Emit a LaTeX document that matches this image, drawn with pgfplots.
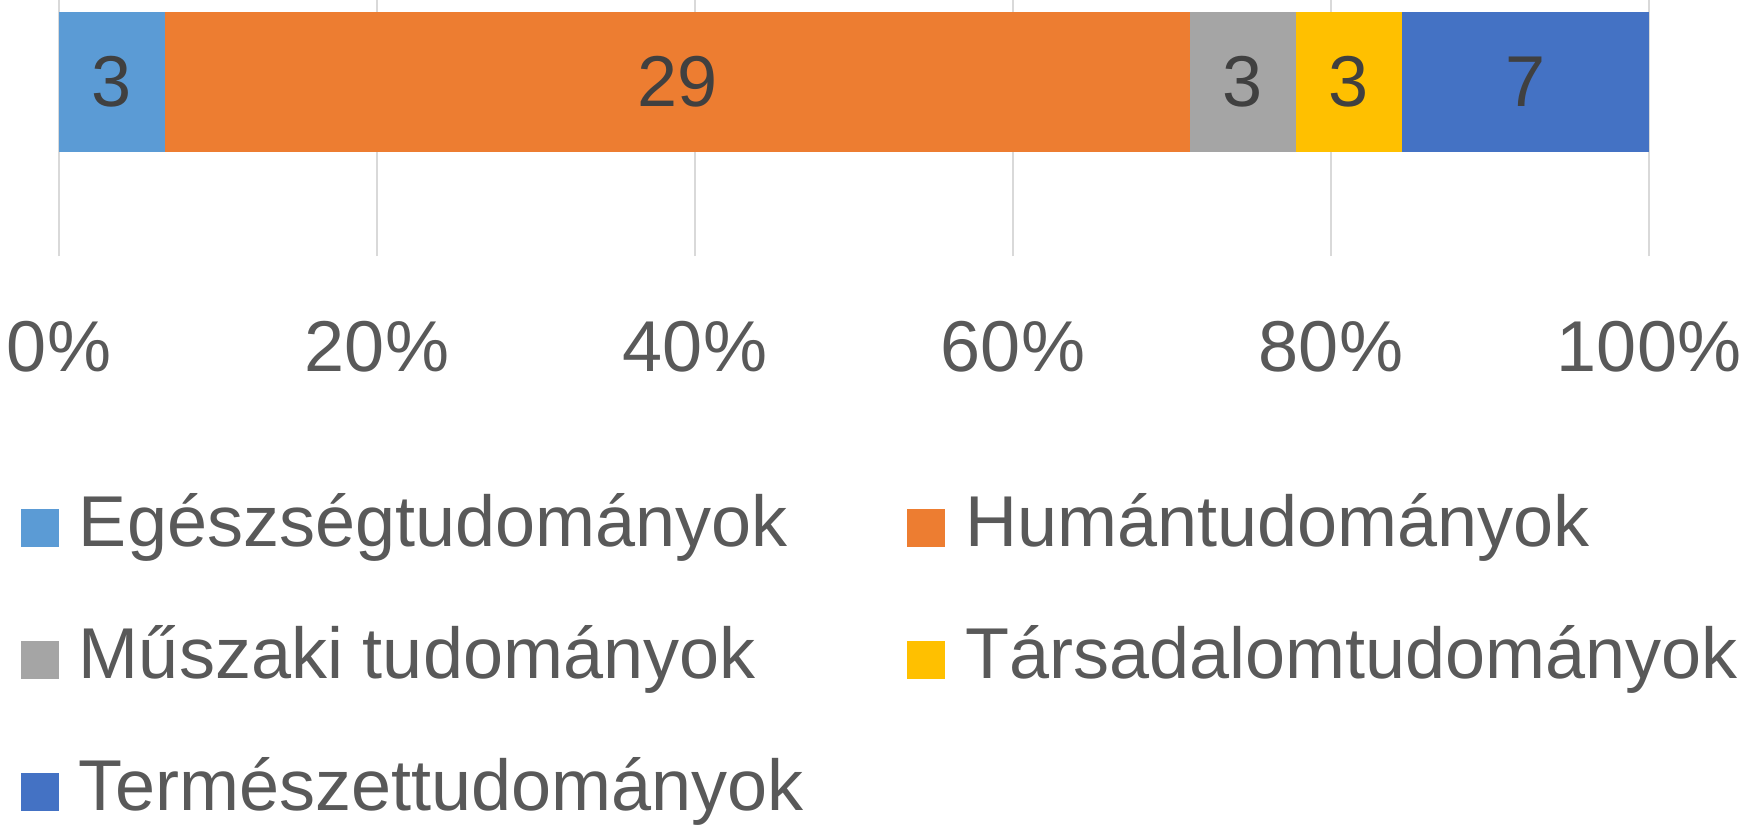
\documentclass[border=0pt]{standalone}
\usepackage{pgfplots}
\pgfplotsset{compat=1.18}
\usepackage{fontspec}
\setmainfont{Liberation Sans}

\definecolor{cEgesz}{HTML}{5B9BD5}
\definecolor{cHuman}{HTML}{ED7D31}
\definecolor{cMusz}{HTML}{A5A5A5}
\definecolor{cTars}{HTML}{FFC000}
\definecolor{cTerm}{HTML}{4472C4}
\definecolor{txt}{HTML}{595959}
\definecolor{lbl}{HTML}{404040}
\definecolor{gridc}{HTML}{D9D9D9}

\newcommand{\bigfont}{\fontsize{18}{21}\selectfont}

\begin{document}
\begin{tikzpicture}
\useasboundingbox (-14.75pt,-142.25pt) rectangle (424pt,64pt);
\begin{axis}[
    name=ax,
    scale only axis,
    width=397.5pt, height=64pt,
    xbar stacked, bar width=1,
    xmin=0, xmax=45,
    ymin=-1.243, ymax=0.586,
    xtick={0,9,18,27,36,45},
    xticklabels={0\%,20\%,40\%,60\%,80\%,100\%},
    ytick=\empty,
    major tick length=0pt,
    axis line style={draw=none},
    xmajorgrids, grid style={gridc, line width=0.5pt},
    x tick label style={font=\bigfont, text=txt, yshift=-12.75pt},
    nodes near coords,
    every node near coord/.append style={font=\bigfont, text=lbl},
    /pgf/number format/assume math mode=true,
    legend columns=2,
    legend cell align=left,
    legend style={
        draw=none, fill=none, font=\bigfont, text=txt,
        at={(0,0)}, anchor=north west,
        xshift=-9.7pt, yshift=-59.4pt,
        inner sep=0pt,
        nodes={inner sep=0pt, text height=13pt, text depth=4pt},
        row sep=16pt,
        /tikz/every odd column/.append style={column sep=5pt},
        /tikz/every even column/.append style={column sep=26pt},
    },
]
\pgfplotsset{sq/.style={draw=none, fill=#1,
    legend image code/.code={\fill[#1] (0pt,-4.75pt) rectangle (9.5pt,4.75pt);}}}
\addplot[sq=cEgesz] coordinates {(3,0)};
\addlegendentry{Egészségtudományok}
\addplot[sq=cHuman] coordinates {(29,0)};
\addlegendentry{Humántudományok}
\addplot[sq=cMusz] coordinates {(3,0)};
\addlegendentry{Műszaki tudományok}
\addplot[sq=cTars] coordinates {(3,0)};
\addlegendentry{Társadalomtudományok}
\addplot[sq=cTerm] coordinates {(7,0)};
\addlegendentry{Természettudományok}
\end{axis}
\end{tikzpicture}
\end{document}
